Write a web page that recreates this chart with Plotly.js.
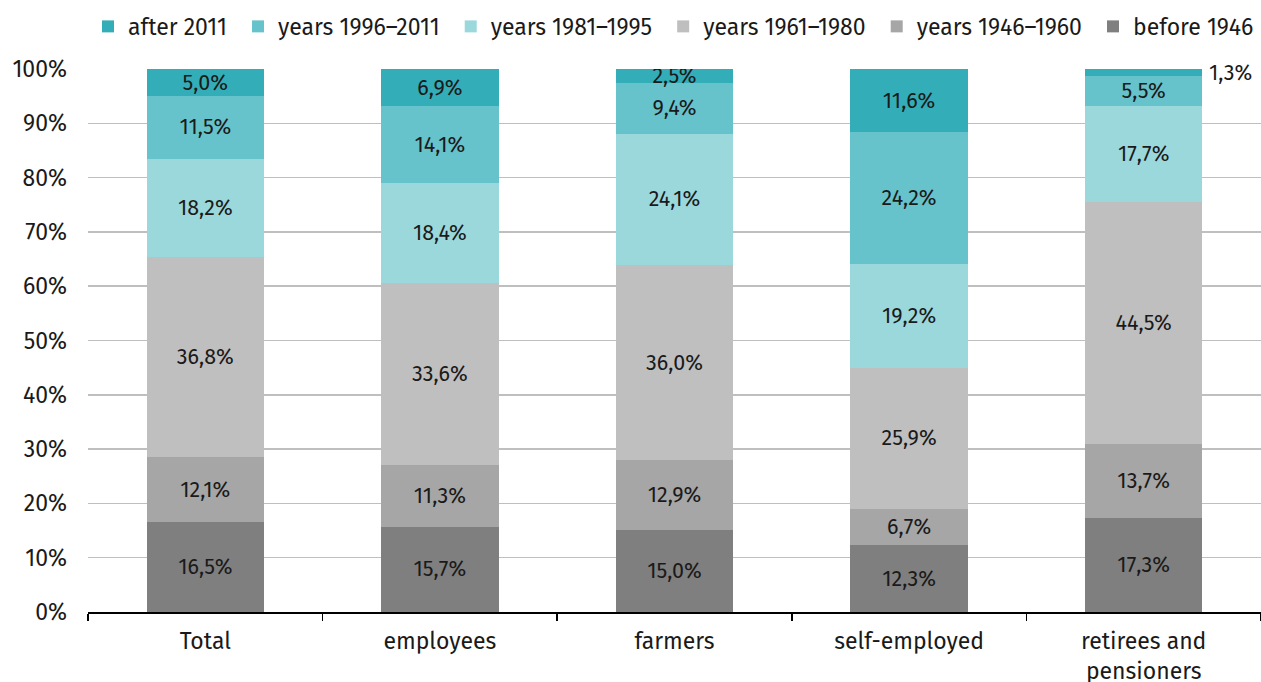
<!DOCTYPE html>
<html>
<head>
<meta charset="utf-8">
<script src="https://cdn.plot.ly/plotly-3.0.1.min.js"></script>
<style>html,body{margin:0;padding:0;background:#fff;}#chart{width:1261px;height:682px;}</style>
</head>
<body>
<div id="chart"></div>
<script>
var categories = ['Total', 'employees', 'farmers', 'self-employed', 'retirees and<br>pensioners'];
var seriesNames = ['before 1946', 'years 1946–1960', 'years 1961–1980', 'years 1981–1995', 'years 1996–2011', 'after 2011'];
var before1946 = [16.5, 15.7, 15.0, 12.3, 17.3];
var y1946_1960 = [12.1, 11.3, 12.9, 6.7, 13.7];
var y1961_1980 = [36.8, 33.6, 36.0, 25.9, 44.5];
var y1981_1995 = [18.2, 18.4, 24.1, 19.2, 17.7];
var y1996_2011 = [11.5, 14.1, 9.4, 24.2, 5.5];
var after2011 = [5.0, 6.9, 2.5, 11.6, 1.3];
var yTickVals = [0, 10, 20, 30, 40, 50, 60, 70, 80, 90, 100];

var series = [before1946, y1946_1960, y1961_1980, y1981_1995, y1996_2011, after2011];
var colors = ['#7f7f7f', '#a6a6a6', '#bfbfbf', '#9bd8dc', '#66c3cb', '#33adb8'];
var FONT = 'Fira Sans, Roboto, sans-serif';

function fmt(v){ return v.toFixed(1).replace('.', ',') + '%'; }

var traces = series.map(function(vals, i){
  var isTop = i === series.length - 1;
  return {
    type: 'bar',
    name: seriesNames[i] + (i === 0 ? '' : '\u00a0'),
    x: categories,
    y: vals,
    marker: {color: colors[i], line: {width: 0}},
    text: vals.map(function(v, j){ return (isTop && j === 4) ? '' : fmt(v); }),
    textposition: 'inside',
    insidetextanchor: 'middle',
    textangle: 0,
    constraintext: 'none',
    textfont: {family: FONT, size: 21.5, color: '#1a1a1a'},
    hoverinfo: 'x+y+name'
  };
});

var annotations = [{
  x: categories[4], y: 100, xref: 'x', yref: 'y',
  text: fmt(after2011[4]), showarrow: false,
  xanchor: 'center', yanchor: 'middle', xshift: 87, yshift: -4,
  font: {family: FONT, size: 21.5, color: '#1a1a1a'}
}];

var layout = {
  width: 1261, height: 682,
  margin: {l: 88, r: 0, t: 69, b: 70},
  barmode: 'stack',
  barnorm: 'percent',
  bargap: 0.5,
  paper_bgcolor: '#fff', plot_bgcolor: '#fff',
  font: {family: FONT, size: 23, color: '#1a1a1a'},
  showlegend: true,
  legend: {
    orientation: 'h', traceorder: 'reversed',
    x: 0, xanchor: 'left', y: 1.118, yanchor: 'top',
    font: {family: FONT, size: 23, color: '#1a1a1a'},
    itemwidth: 30, tracegroupgap: 0
  },
  xaxis: {
    type: 'category',
    showline: true, linecolor: '#000', linewidth: 1.5,
    ticks: 'outside', tickson: 'boundaries', ticklen: 7, tickcolor: '#000', tickwidth: 1.5,
    showgrid: false,
    ticklabelstandoff: 8,
    tickfont: {family: FONT, size: 23, color: '#1a1a1a'}
  },
  yaxis: {
    range: [0, 100],
    tickvals: yTickVals,
    ticktext: yTickVals.map(function(v){ return v + '%'; }),
    showgrid: true, gridcolor: '#bfbfbf', gridwidth: 1.5,
    zeroline: false, showline: false, ticks: '',
    ticklabelstandoff: 20,
    tickfont: {family: FONT, size: 23, color: '#1a1a1a'}
  },
  annotations: annotations
};

Plotly.newPlot('chart', traces, layout, {displayModeBar: false, staticPlot: true});
</script>
</body>
</html>
